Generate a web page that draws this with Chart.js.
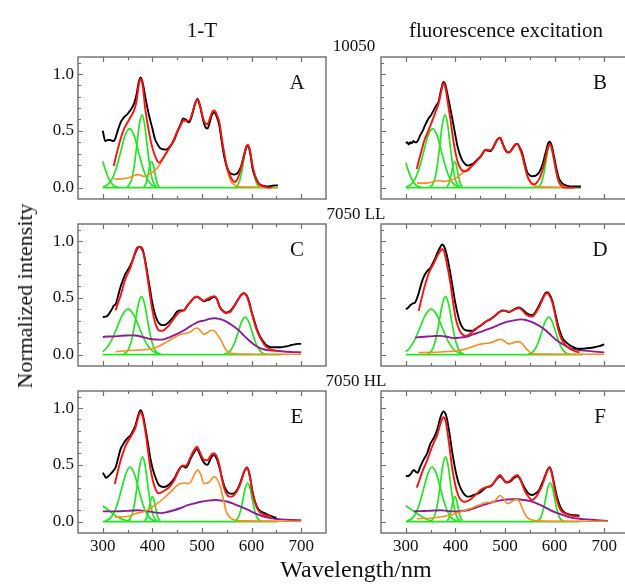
<!DOCTYPE html>
<html><head><meta charset="utf-8">
<script src="https://cdn.jsdelivr.net/npm/chart.js@4/dist/chart.umd.min.js"></script>
<style>
html,body{margin:0;padding:0;background:#fff;overflow:hidden;width:625px;height:584px}
#wrap{position:relative;width:625px;height:584px;overflow:hidden;font-family:"Liberation Serif","Times New Roman",serif;color:#111}
#wrap canvas{position:absolute}
.t{position:absolute;white-space:nowrap;line-height:1}
</style></head><body><div id="wrap"></div>
<script>
// ---------- axis / tick definitions ----------
const X_LABEL_TICKS = [300, 400, 500, 600, 700];
const X_MINOR_TICKS = [350, 450, 550, 650];
const Y_LABEL_TICKS = [0, 0.5, 1.0];
const Y_MINOR_TICKS = [0.1, 0.2, 0.3, 0.4, 0.6, 0.7, 0.8, 0.9, 1.1];
const PANEL_LETTERS = ['A','B','C','D','E','F'];
const ROW_LABELS = ['10050', '7050 LL', '7050 HL'];
const COL_TITLES = ['1-T', 'fluorescence excitation'];

// ---------- Panel A (1-T, 10050) ----------
const A_black = [[300,0.50],[305,0.41],[310,0.42],[315,0.42],[320,0.41],[324,0.42],[330,0.50],[336,0.575],[343,0.62],[350,0.65],[357,0.69],[363,0.74],[368,0.82],[372,0.92],[376,0.97],[380,0.93],[386,0.79],[393,0.64],[400,0.52],[405,0.43],[410,0.385],[415,0.35],[420,0.34],[427,0.335],[437,0.37],[444,0.42],[450,0.49],[457,0.56],[462,0.61],[467,0.60],[474,0.575],[480,0.64],[486,0.74],[491,0.78],[496,0.72],[501,0.62],[506,0.54],[511,0.52],[516,0.58],[520,0.64],[525,0.66],[530,0.62],[535,0.545],[540,0.40],[545,0.27],[550,0.185],[555,0.135],[560,0.12],[565,0.115],[572,0.13],[579,0.19],[585,0.29],[590,0.36],[593,0.37],[597,0.31],[602,0.165],[609,0.08],[616,0.03],[625,0.015],[633,0.01],[640,0.015],[647,0.02],[653,0.02]];
const A_red = [[322,0.19],[328,0.30],[336,0.43],[343,0.52],[350,0.575],[357,0.63],[363,0.68],[368,0.76],[372,0.89],[376,0.96],[380,0.91],[386,0.68],[393,0.49],[400,0.35],[407,0.26],[413,0.22],[418,0.235],[423,0.27],[430,0.32],[437,0.37],[444,0.43],[450,0.49],[457,0.55],[462,0.59],[467,0.59],[474,0.59],[480,0.65],[486,0.74],[491,0.775],[496,0.72],[501,0.63],[506,0.57],[511,0.56],[516,0.61],[521,0.67],[525,0.68],[530,0.64],[535,0.575],[540,0.43],[545,0.30],[550,0.19],[555,0.12],[560,0.075],[565,0.05],[572,0.08],[579,0.18],[585,0.29],[590,0.37],[593,0.375],[597,0.32],[602,0.19],[609,0.08],[616,0.03],[625,0.01],[633,0.0],[640,0.0]];
const A_orange = [[322,0.08],[330,0.075],[336,0.075],[343,0.08],[350,0.085],[358,0.095],[365,0.11],[370,0.115],[376,0.11],[383,0.10],[390,0.11],[400,0.135],[407,0.16],[413,0.19],[418,0.23],[423,0.27],[430,0.32],[437,0.37],[444,0.43],[450,0.49],[457,0.55],[462,0.59],[467,0.585],[474,0.58],[480,0.64],[486,0.735],[491,0.77],[496,0.715],[501,0.62],[506,0.565],[511,0.555],[516,0.60],[521,0.665],[525,0.675],[530,0.63],[535,0.565],[540,0.42],[545,0.29],[550,0.17],[555,0.09],[560,0.045],[565,0.025],[572,0.012],[580,0.008],[600,0.005],[650,0.0]];
const A_g0 = [[300,0.23],[305,0.16],[310,0.10],[315,0.055],[320,0.027],[325,0.01],[332,0.0]];
const A_g1 = [[300,0.006],[309,0.023],[318,0.07],[327,0.17],[336,0.315],[345,0.46],[354,0.52],[363,0.46],[372,0.315],[381,0.17],[390,0.07],[399,0.023],[408,0.006]];
const A_g2 = [[349,0.007],[354,0.028],[359,0.086],[364,0.21],[369,0.39],[374,0.565],[379,0.64],[384,0.565],[389,0.39],[394,0.21],[399,0.086],[404,0.028],[409,0.007]];
const A_g3 = [[383,0.007],[387,0.036],[391,0.106],[395,0.195],[398.5,0.23],[402,0.195],[406,0.106],[410,0.036],[414,0.007]];
const A_g4 = [[567,0.005],[571,0.017],[575,0.05],[580,0.137],[584,0.237],[588,0.33],[592,0.37],[596,0.33],[600,0.237],[604,0.137],[609,0.05],[613,0.017],[617,0.005]];
const A_base = [[300,0],[653,0]];

// ---------- Panel B (fluorescence excitation, 10050) ----------
const B_black = [[300,0.39],[303,0.40],[306,0.38],[309,0.40],[312,0.39],[315,0.41],[318,0.40],[322,0.40],[325,0.42],[329,0.46],[334,0.50],[339,0.55],[346,0.61],[351,0.64],[356,0.68],[361,0.72],[366,0.755],[371,0.86],[376,0.93],[380,0.90],[385,0.80],[390,0.69],[395,0.58],[400,0.46],[405,0.35],[410,0.28],[414,0.24],[419,0.21],[424,0.195],[430,0.20],[437,0.215],[444,0.245],[451,0.275],[456,0.31],[461,0.33],[466,0.325],[471,0.32],[477,0.36],[484,0.42],[490,0.44],[495,0.39],[500,0.34],[505,0.31],[510,0.315],[516,0.35],[521,0.38],[525,0.385],[530,0.35],[535,0.30],[540,0.21],[545,0.135],[550,0.11],[555,0.10],[562,0.105],[569,0.135],[576,0.21],[582,0.31],[587,0.39],[590,0.405],[594,0.37],[599,0.27],[604,0.16],[609,0.08],[615,0.04],[620,0.025],[627,0.015],[633,0.01],[643,0.01],[653,0.01]];
const B_red = [[322,0.165],[327,0.25],[332,0.33],[337,0.41],[343,0.475],[350,0.55],[356,0.62],[361,0.68],[366,0.74],[371,0.84],[376,0.92],[380,0.88],[385,0.74],[390,0.60],[395,0.44],[400,0.31],[405,0.22],[410,0.17],[414,0.15],[419,0.145],[424,0.15],[430,0.175],[437,0.205],[444,0.24],[451,0.275],[456,0.31],[461,0.335],[466,0.33],[471,0.33],[477,0.36],[484,0.42],[490,0.44],[495,0.39],[500,0.335],[505,0.31],[510,0.315],[516,0.35],[521,0.38],[525,0.385],[530,0.345],[535,0.28],[540,0.19],[545,0.105],[550,0.06],[555,0.035],[560,0.03],[565,0.05],[569,0.075],[576,0.16],[582,0.27],[587,0.36],[590,0.385],[594,0.35],[599,0.24],[604,0.13],[609,0.05],[615,0.015],[620,0.0],[640,0.0]];
const B_orange = [[322,0.04],[330,0.04],[343,0.04],[353,0.05],[363,0.06],[370,0.06],[376,0.055],[385,0.06],[397,0.075],[404,0.09],[410,0.115],[417,0.135],[424,0.16],[430,0.185],[437,0.21],[444,0.24],[451,0.275],[456,0.31],[461,0.335],[466,0.33],[471,0.33],[477,0.36],[484,0.42],[490,0.44],[495,0.39],[500,0.335],[505,0.31],[510,0.315],[516,0.35],[521,0.38],[525,0.385],[530,0.34],[535,0.275],[540,0.18],[545,0.10],[550,0.05],[555,0.025],[562,0.012],[570,0.008],[600,0.004],[650,0.0]];
const B_g0 = [[300,0.22],[305,0.15],[310,0.095],[315,0.05],[320,0.025],[325,0.01],[332,0.0]];
const B_g1 = [[300,0.006],[309,0.023],[318,0.07],[327,0.17],[336,0.315],[345,0.46],[354,0.52],[363,0.46],[372,0.315],[381,0.17],[390,0.07],[399,0.023],[408,0.006]];
const B_g2 = [[349,0.007],[354,0.028],[359,0.086],[364,0.21],[369,0.39],[374,0.565],[379,0.64],[384,0.565],[389,0.39],[394,0.21],[399,0.086],[404,0.028],[409,0.007]];
const B_g3 = [[383,0.007],[387,0.036],[391,0.106],[395,0.195],[398.5,0.23],[402,0.195],[406,0.106],[410,0.036],[414,0.007]];
const B_g4 = [[566,0.005],[570,0.017],[574,0.051],[579,0.14],[583,0.244],[587,0.34],[591,0.38],[595,0.34],[599,0.244],[603,0.14],[608,0.051],[612,0.017],[616,0.005]];
const B_base = [[300,0],[653,0]];

// ---------- Panel C (1-T, 7050 LL) ----------
const C_black = [[300,0.33],[305,0.335],[309,0.34],[314,0.37],[319,0.405],[322,0.43],[326,0.445],[331,0.52],[336,0.60],[341,0.66],[346,0.715],[351,0.75],[356,0.79],[361,0.84],[365,0.89],[369,0.93],[373,0.95],[377,0.945],[380,0.93],[385,0.84],[390,0.71],[395,0.58],[400,0.45],[405,0.36],[410,0.30],[415,0.27],[420,0.26],[427,0.265],[434,0.29],[442,0.33],[450,0.38],[457,0.39],[464,0.39],[470,0.43],[477,0.465],[484,0.50],[491,0.51],[497,0.49],[504,0.47],[510,0.48],[515,0.485],[520,0.50],[525,0.51],[530,0.49],[535,0.43],[538,0.405],[543,0.385],[548,0.37],[553,0.375],[558,0.39],[565,0.43],[572,0.48],[579,0.525],[585,0.54],[590,0.52],[595,0.465],[600,0.38],[606,0.29],[611,0.22],[616,0.17],[621,0.13],[626,0.10],[633,0.075],[639,0.065],[646,0.065],[653,0.065],[660,0.065],[666,0.07],[673,0.075],[680,0.085],[687,0.09],[693,0.095],[700,0.095]];
const C_red = [[326,0.39],[331,0.46],[336,0.52],[341,0.60],[346,0.67],[351,0.72],[356,0.77],[361,0.84],[365,0.90],[369,0.94],[373,0.95],[377,0.94],[382,0.89],[386,0.80],[390,0.685],[395,0.53],[400,0.39],[405,0.29],[410,0.23],[415,0.21],[420,0.21],[427,0.23],[434,0.26],[442,0.31],[450,0.355],[457,0.38],[464,0.39],[470,0.43],[477,0.465],[484,0.50],[491,0.51],[497,0.49],[504,0.475],[510,0.49],[515,0.50],[520,0.51],[525,0.515],[530,0.49],[535,0.43],[538,0.405],[543,0.38],[548,0.365],[553,0.37],[558,0.38],[565,0.425],[572,0.48],[579,0.525],[585,0.54],[590,0.52],[595,0.45],[600,0.37],[606,0.275],[611,0.21],[616,0.16],[621,0.12],[626,0.085],[633,0.06],[639,0.045],[646,0.037],[652,0.033]];
const C_orange = [[326,0.025],[340,0.032],[349,0.035],[360,0.038],[370,0.04],[380,0.043],[390,0.045],[400,0.055],[410,0.07],[420,0.09],[430,0.115],[440,0.14],[450,0.165],[457,0.18],[464,0.185],[470,0.19],[477,0.20],[484,0.225],[491,0.235],[497,0.21],[504,0.18],[510,0.19],[516,0.21],[522,0.215],[527,0.20],[533,0.16],[538,0.13],[543,0.085],[548,0.045],[553,0.025],[558,0.012],[565,0.008],[579,0.005],[600,0.004],[650,0.003],[700,0.003]];
const C_purple = [[300,0.155],[310,0.16],[320,0.16],[336,0.165],[346,0.168],[356,0.17],[366,0.168],[376,0.16],[386,0.148],[396,0.138],[405,0.133],[415,0.132],[423,0.135],[433,0.15],[443,0.17],[453,0.19],[464,0.215],[474,0.243],[484,0.27],[494,0.29],[504,0.30],[515,0.315],[525,0.32],[535,0.315],[545,0.30],[555,0.275],[565,0.245],[575,0.21],[585,0.165],[595,0.125],[606,0.085],[616,0.06],[626,0.045],[636,0.038],[646,0.035],[660,0.03],[673,0.025],[686,0.022],[700,0.02]];
const C_g1 = [[300,0.027],[307,0.054],[318,0.13],[329,0.243],[340,0.353],[351,0.40],[362,0.353],[373,0.243],[384,0.13],[395,0.054],[406,0.017],[417,0.004]];
const C_g2 = [[342,0.006],[348,0.022],[354,0.069],[360,0.166],[366,0.31],[372,0.45],[378,0.51],[384,0.45],[390,0.31],[396,0.166],[402,0.069],[408,0.022],[414,0.006]];
const C_g4 = [[545,0.004],[552,0.015],[559,0.045],[566,0.107],[573,0.20],[580,0.29],[587,0.33],[594,0.29],[601,0.20],[608,0.107],[615,0.045],[622,0.015],[629,0.004]];
const C_base = [[300,0],[660,0]];

// ---------- Panel D (fluorescence excitation, 7050 LL) ----------
const D_black = [[300,0.40],[304,0.41],[309,0.435],[314,0.45],[319,0.46],[322,0.49],[326,0.54],[329,0.59],[334,0.66],[339,0.71],[344,0.74],[349,0.76],[354,0.80],[359,0.845],[364,0.90],[370,0.95],[373,0.97],[377,0.955],[380,0.92],[385,0.83],[390,0.71],[395,0.58],[400,0.45],[405,0.35],[410,0.275],[415,0.235],[420,0.215],[427,0.21],[434,0.21],[440,0.225],[447,0.245],[454,0.265],[461,0.29],[470,0.31],[478,0.335],[487,0.37],[495,0.39],[501,0.385],[508,0.375],[515,0.39],[521,0.405],[528,0.415],[535,0.40],[542,0.37],[548,0.355],[555,0.35],[562,0.38],[569,0.435],[576,0.50],[581,0.54],[584,0.55],[589,0.535],[596,0.465],[601,0.37],[606,0.275],[611,0.20],[616,0.145],[623,0.11],[630,0.085],[637,0.068],[643,0.055],[652,0.052],[660,0.053],[670,0.058],[680,0.065],[690,0.075],[700,0.09]];
const D_red = [[326,0.385],[331,0.48],[336,0.57],[341,0.645],[346,0.715],[351,0.76],[356,0.80],[361,0.845],[366,0.89],[370,0.915],[373,0.93],[377,0.91],[380,0.86],[385,0.75],[390,0.625],[395,0.47],[400,0.33],[405,0.25],[410,0.20],[415,0.175],[420,0.165],[427,0.175],[434,0.20],[440,0.22],[447,0.245],[454,0.265],[461,0.29],[470,0.31],[478,0.335],[487,0.37],[495,0.385],[501,0.385],[508,0.375],[515,0.39],[521,0.40],[528,0.41],[535,0.39],[542,0.355],[548,0.34],[555,0.335],[562,0.37],[569,0.42],[576,0.49],[581,0.53],[584,0.54],[589,0.525],[596,0.45],[601,0.35],[606,0.245],[611,0.17],[616,0.12],[623,0.08],[630,0.055],[637,0.038],[643,0.026],[650,0.02]];
const D_orange = [[326,0.018],[350,0.02],[370,0.023],[385,0.027],[400,0.032],[412,0.04],[424,0.055],[434,0.07],[444,0.085],[454,0.095],[464,0.10],[471,0.105],[478,0.115],[485,0.13],[491,0.135],[497,0.125],[503,0.105],[508,0.095],[514,0.10],[520,0.11],[528,0.115],[535,0.095],[542,0.055],[548,0.03],[552,0.015],[558,0.008],[572,0.005],[600,0.004],[650,0.003],[700,0.003]];
const D_purple = [[319,0.15],[330,0.155],[343,0.16],[356,0.163],[370,0.165],[383,0.157],[397,0.145],[410,0.15],[424,0.16],[437,0.18],[451,0.20],[464,0.222],[478,0.245],[491,0.268],[505,0.29],[518,0.302],[532,0.31],[542,0.305],[552,0.29],[562,0.27],[572,0.245],[583,0.21],[593,0.17],[603,0.13],[613,0.10],[623,0.075],[633,0.055],[646,0.043],[660,0.035],[680,0.027],[700,0.02]];
const D_g1 = [[300,0.027],[307,0.054],[318,0.13],[329,0.243],[340,0.353],[351,0.40],[362,0.353],[373,0.243],[384,0.13],[395,0.054],[406,0.017],[417,0.004]];
const D_g2 = [[344,0.006],[350,0.022],[356,0.069],[362,0.166],[368,0.31],[374,0.45],[380,0.51],[386,0.45],[392,0.31],[398,0.166],[404,0.069],[410,0.022],[416,0.006]];
const D_g4 = [[546,0.004],[553,0.015],[560,0.045],[567,0.107],[574,0.20],[581,0.29],[588,0.33],[595,0.29],[602,0.20],[609,0.107],[616,0.045],[623,0.015],[630,0.004]];
const D_base = [[300,0],[657,0]];

// ---------- Panel E (1-T, 7050 HL) ----------
const E_black = [[300,0.43],[303,0.41],[307,0.385],[311,0.40],[316,0.42],[320,0.44],[326,0.48],[331,0.56],[336,0.64],[341,0.68],[346,0.715],[351,0.74],[356,0.76],[361,0.80],[366,0.85],[371,0.93],[376,0.98],[380,0.95],[386,0.82],[391,0.69],[396,0.555],[401,0.46],[407,0.38],[412,0.33],[417,0.31],[423,0.305],[430,0.315],[437,0.34],[444,0.38],[450,0.43],[457,0.48],[462,0.49],[467,0.475],[472,0.50],[477,0.555],[484,0.61],[490,0.64],[495,0.60],[501,0.54],[506,0.51],[511,0.50],[516,0.54],[521,0.58],[525,0.585],[530,0.55],[535,0.48],[540,0.39],[545,0.31],[550,0.27],[555,0.25],[560,0.245],[565,0.25],[572,0.29],[579,0.365],[585,0.44],[591,0.475],[596,0.41],[602,0.26],[607,0.175],[612,0.12],[619,0.09],[626,0.075],[633,0.06],[639,0.05],[645,0.04],[650,0.035]];
const E_red = [[324,0.33],[330,0.44],[336,0.54],[341,0.61],[346,0.67],[351,0.71],[356,0.745],[361,0.785],[366,0.83],[371,0.91],[376,0.965],[380,0.93],[386,0.79],[391,0.63],[396,0.47],[401,0.36],[407,0.28],[412,0.25],[417,0.255],[423,0.27],[430,0.29],[437,0.32],[444,0.365],[450,0.42],[457,0.48],[462,0.495],[467,0.49],[472,0.52],[477,0.57],[484,0.63],[490,0.66],[495,0.62],[501,0.56],[506,0.54],[511,0.54],[516,0.57],[521,0.60],[525,0.60],[530,0.57],[535,0.50],[540,0.38],[545,0.29],[550,0.24],[555,0.22],[560,0.22],[565,0.235],[572,0.28],[579,0.355],[585,0.44],[591,0.48],[596,0.41],[602,0.255],[607,0.165],[612,0.11],[619,0.075],[626,0.06],[633,0.05],[640,0.045]];
const E_orange = [[324,0.04],[336,0.042],[349,0.045],[360,0.06],[370,0.075],[380,0.085],[390,0.10],[400,0.13],[410,0.16],[420,0.195],[430,0.235],[440,0.275],[450,0.32],[457,0.335],[464,0.34],[470,0.335],[477,0.345],[484,0.41],[491,0.455],[497,0.42],[504,0.335],[510,0.34],[515,0.35],[521,0.385],[526,0.395],[532,0.36],[538,0.29],[543,0.20],[548,0.10],[553,0.055],[558,0.03],[565,0.015],[572,0.01],[590,0.007],[620,0.005],[660,0.004],[700,0.003]];
const E_purple = [[300,0.09],[311,0.09],[322,0.09],[335,0.092],[349,0.095],[360,0.098],[370,0.10],[380,0.097],[390,0.09],[404,0.082],[417,0.075],[430,0.085],[444,0.10],[457,0.12],[471,0.145],[484,0.16],[498,0.175],[512,0.185],[528,0.19],[540,0.185],[552,0.175],[565,0.155],[579,0.13],[592,0.105],[606,0.075],[620,0.052],[633,0.035],[646,0.026],[660,0.02],[680,0.015],[700,0.012]];
const E_g0 = [[300,0.14],[310,0.105],[320,0.07],[330,0.04],[340,0.02],[350,0.007],[358,0.0]];
const E_g1 = [[304,0.005],[312.5,0.021],[321,0.065],[329.5,0.156],[338,0.291],[346.5,0.423],[355,0.48],[363.5,0.423],[372,0.291],[380.5,0.156],[389,0.065],[397.5,0.021],[406,0.005]];
const E_g2 = [[350,0.006],[355,0.025],[360,0.077],[365,0.185],[370,0.346],[375,0.503],[380,0.57],[385,0.503],[390,0.346],[395,0.185],[400,0.077],[405,0.025],[410,0.006]];
const E_g3 = [[384.5,0.008],[388.5,0.035],[392.5,0.101],[396.5,0.186],[400,0.22],[403.5,0.186],[407.5,0.101],[411.5,0.035],[415.5,0.008]];
const E_g4 = [[565,0.004],[569.5,0.015],[574,0.046],[578.5,0.11],[583,0.206],[587.5,0.30],[592,0.34],[596.5,0.30],[601,0.206],[605.5,0.11],[610,0.046],[614.5,0.015],[619,0.004]];
const E_base = [[300,0],[653,0]];

// ---------- Panel F (fluorescence excitation, 7050 HL) ----------
const F_black = [[300,0.405],[304,0.40],[309,0.415],[313,0.44],[316,0.455],[320,0.44],[324,0.43],[328,0.47],[332,0.51],[337,0.555],[343,0.60],[349,0.68],[354,0.72],[359,0.76],[364,0.82],[370,0.92],[376,0.97],[380,0.95],[383,0.905],[388,0.78],[393,0.63],[398,0.50],[403,0.395],[408,0.32],[414,0.265],[419,0.235],[424,0.22],[430,0.222],[437,0.235],[444,0.245],[451,0.26],[457,0.285],[464,0.305],[471,0.31],[478,0.345],[484,0.38],[490,0.40],[495,0.38],[501,0.35],[506,0.345],[511,0.355],[518,0.385],[525,0.40],[530,0.38],[535,0.335],[540,0.295],[545,0.26],[550,0.24],[555,0.235],[562,0.25],[569,0.28],[575,0.34],[579,0.38],[585,0.45],[590,0.48],[594,0.44],[599,0.335],[604,0.23],[609,0.16],[614,0.11],[620,0.08],[627,0.065],[633,0.06],[641,0.056],[650,0.053]];
const F_red = [[322,0.30],[327,0.36],[332,0.425],[337,0.48],[343,0.54],[348,0.60],[353,0.66],[358,0.71],[363,0.76],[367,0.82],[370,0.865],[373,0.90],[376,0.92],[380,0.89],[383,0.82],[388,0.66],[393,0.485],[398,0.36],[403,0.265],[408,0.21],[414,0.18],[419,0.175],[424,0.18],[430,0.195],[437,0.22],[444,0.25],[451,0.28],[457,0.295],[464,0.305],[471,0.315],[478,0.345],[484,0.385],[490,0.41],[495,0.385],[501,0.345],[506,0.35],[511,0.365],[518,0.395],[525,0.41],[530,0.38],[535,0.325],[540,0.27],[545,0.235],[550,0.205],[555,0.19],[562,0.215],[569,0.265],[575,0.32],[579,0.37],[585,0.445],[590,0.475],[594,0.43],[599,0.31],[604,0.205],[609,0.13],[614,0.09],[620,0.075],[627,0.063],[633,0.053],[641,0.048],[650,0.045]];
const F_orange = [[322,0.025],[335,0.027],[349,0.03],[362,0.037],[376,0.045],[390,0.058],[403,0.075],[417,0.095],[430,0.115],[441,0.135],[451,0.15],[458,0.165],[464,0.17],[471,0.168],[478,0.175],[484,0.205],[490,0.23],[496,0.21],[502,0.17],[507,0.16],[513,0.175],[519,0.19],[524,0.195],[530,0.17],[535,0.115],[540,0.07],[545,0.035],[552,0.018],[559,0.01],[572,0.005],[600,0.004],[650,0.003],[705,0.003]];
const F_purple = [[316,0.09],[330,0.093],[343,0.095],[357,0.098],[370,0.10],[383,0.095],[397,0.09],[410,0.093],[424,0.10],[437,0.118],[451,0.14],[464,0.157],[478,0.175],[491,0.187],[505,0.195],[518,0.197],[525,0.197],[538,0.19],[552,0.18],[565,0.158],[579,0.13],[592,0.10],[606,0.075],[620,0.053],[633,0.035],[650,0.025],[666,0.02],[686,0.012],[707,0.006]];
const F_g0 = [[300,0.14],[310,0.11],[320,0.08],[330,0.05],[340,0.025],[348,0.01],[355,0.0]];
const F_g1 = [[302,0.005],[310.5,0.021],[319,0.065],[327.5,0.156],[336,0.291],[344.5,0.423],[353,0.48],[361.5,0.423],[370,0.291],[378.5,0.156],[387,0.065],[395.5,0.021],[404,0.005]];
const F_g2 = [[350,0.006],[355,0.025],[360,0.077],[365,0.185],[370,0.346],[375,0.503],[380,0.57],[385,0.503],[390,0.346],[395,0.185],[400,0.077],[405,0.025],[410,0.006]];
const F_g3 = [[383.5,0.008],[387.5,0.035],[391.5,0.101],[395.5,0.186],[399,0.22],[402.5,0.186],[406.5,0.101],[410.5,0.035],[414.5,0.008]];
const F_g4 = [[564,0.004],[568.5,0.015],[573,0.046],[577.5,0.11],[582,0.206],[586.5,0.30],[591,0.34],[595.5,0.30],[600,0.206],[604.5,0.11],[609,0.046],[613.5,0.015],[618,0.004]];
const F_base = [[300,0],[652,0]];

// ---------- assembly ----------
const PANELS = [
  {black:A_black, red:A_red, orange:A_orange, purple:null, greens:[A_g0,A_g1,A_g2,A_g3,A_g4,A_base]},
  {black:B_black, red:B_red, orange:B_orange, purple:null, greens:[B_g0,B_g1,B_g2,B_g3,B_g4,B_base]},
  {black:C_black, red:C_red, orange:C_orange, purple:C_purple, greens:[C_g1,C_g2,C_g4,C_base]},
  {black:D_black, red:D_red, orange:D_orange, purple:D_purple, greens:[D_g1,D_g2,D_g4,D_base]},
  {black:E_black, red:E_red, orange:E_orange, purple:E_purple, greens:[E_g0,E_g1,E_g2,E_g3,E_g4,E_base]},
  {black:F_black, red:F_red, orange:F_orange, purple:F_purple, greens:[F_g0,F_g1,F_g2,F_g3,F_g4,F_base]}
];

const COLORS = {black:'#000000', red:'#ff1010', orange:'#ff8a1e', purple:'#8e1c96', green:'#22e622', frame:'#6e6e6e'};
const FRAME_LEFT = [78, 381], FRAME_TOP = [57, 224, 391], FRAME_W = 248, FRAME_H = 142;
const PAD_L = 50, PAD_T = 20, PAD_R = 20, PAD_B = 30;

Chart.defaults.font.family = '"Liberation Serif","Times New Roman",serif';
Chart.defaults.font.size = 17;
Chart.defaults.color = '#111';

const framePlugin = {
  id: 'frameTicks',
  afterDatasetsDraw(chart) {
    const {ctx, chartArea: a, scales: {x, y}} = chart;
    ctx.save();
    ctx.strokeStyle = COLORS.frame;
    ctx.lineWidth = 1.2;
    ctx.beginPath();
    const xt = (list, len) => list.forEach(v => {
      const px = Math.round(x.getPixelForValue(v)) + 0.5;
      ctx.moveTo(px, a.bottom); ctx.lineTo(px, a.bottom - len);
      ctx.moveTo(px, a.top); ctx.lineTo(px, a.top + len);
    });
    const yt = (list, len) => list.forEach(v => {
      const py = Math.round(y.getPixelForValue(v)) + 0.5;
      ctx.moveTo(a.left, py); ctx.lineTo(a.left + len, py);
    });
    xt(X_LABEL_TICKS, 5); xt(X_MINOR_TICKS, 3);
    yt(Y_LABEL_TICKS, 5); yt(Y_MINOR_TICKS, 3);
    ctx.stroke();
    ctx.lineWidth = 1.4;
    ctx.strokeRect(a.left, a.top, a.right - a.left, a.bottom - a.top);
    ctx.restore();
  }
};

const toXY = arr => arr.map(p => ({x: p[0], y: p[1]}));
const ds = (arr, color, w) => ({data: toXY(arr), borderColor: color, borderWidth: w, pointRadius: 0, fill: false, cubicInterpolationMode: 'monotone'});

const wrap = document.getElementById('wrap');
PANELS.forEach((p, i) => {
  const col = i % 2, row = Math.floor(i / 2);
  const cv = document.createElement('canvas');
  const W = FRAME_W + PAD_L + PAD_R, H = FRAME_H + PAD_T + PAD_B;
  cv.width = W; cv.height = H;
  cv.style.width = W + 'px'; cv.style.height = H + 'px';
  cv.style.left = (FRAME_LEFT[col] - PAD_L) + 'px';
  cv.style.top = (FRAME_TOP[row] - PAD_T) + 'px';
  wrap.appendChild(cv);
  const datasets = [ds(p.red, COLORS.red, 1.9), ds(p.black, COLORS.black, 1.9), ds(p.orange, COLORS.orange, 1.6)];
  if (p.purple) datasets.push(ds(p.purple, COLORS.purple, 1.9));
  p.greens.forEach(g => datasets.push(ds(g, COLORS.green, 1.7)));
  new Chart(cv, {
    type: 'line',
    data: {datasets},
    options: {
      responsive: false, animation: false, devicePixelRatio: 1,
      layout: {padding: {left: 0, top: PAD_T, right: PAD_R, bottom: 0}},
      plugins: {legend: {display: false}, tooltip: {enabled: false}},
      scales: {
        x: {
          type: 'linear', min: 250, max: 750,
          grid: {display: false, drawTicks: false}, border: {display: false},
          ticks: {display: row === 2, padding: 3, autoSkip: false, maxRotation: 0, callback: v => String(v)},
          afterBuildTicks: s => { s.ticks = X_LABEL_TICKS.map(v => ({value: v})); },
          afterFit: s => { s.height = PAD_B; }
        },
        y: {
          type: 'linear', min: -0.1, max: 1.15,
          grid: {display: false, drawTicks: false}, border: {display: false},
          ticks: {display: col === 0, padding: 4, autoSkip: false, callback: v => v.toFixed(1)},
          afterBuildTicks: s => { s.ticks = Y_LABEL_TICKS.map(v => ({value: v})); },
          afterFit: s => { s.width = PAD_L; }
        }
      }
    },
    plugins: [framePlugin]
  });
});

// ---------- text ----------
function addText(txt, size, cx, baseline, extra) {
  const d = document.createElement('div');
  d.className = 't';
  d.textContent = txt;
  d.style.fontSize = size + 'px';
  d.style.left = cx + 'px';
  d.style.top = (baseline - 0.8375 * size) + 'px';
  d.style.transform = 'translateX(-50%)';
  if (extra) Object.assign(d.style, extra);
  wrap.appendChild(d);
  return d;
}
addText(COL_TITLES[0], 21, 202, 38);
addText(COL_TITLES[1], 21, 506, 38);
addText(ROW_LABELS[0], 17, 354, 51);
addText(ROW_LABELS[1], 17, 356, 219);
addText(ROW_LABELS[2], 17, 356, 386);
PANEL_LETTERS.forEach((L, i) => {
  const col = i % 2, row = Math.floor(i / 2);
  addText(L, 21, FRAME_LEFT[col] + 219, FRAME_TOP[row] + 33);
});
addText('Wavelength/nm', 24, 356, 577);
const yt = document.createElement('div');
yt.className = 't';
yt.textContent = 'Normalized intensity';
yt.style.fontSize = '22px';
yt.style.left = '25px';
yt.style.top = '296px';
yt.style.transform = 'translate(-50%,-50%) rotate(-90deg)';
wrap.appendChild(yt);
</script>
</body></html>
